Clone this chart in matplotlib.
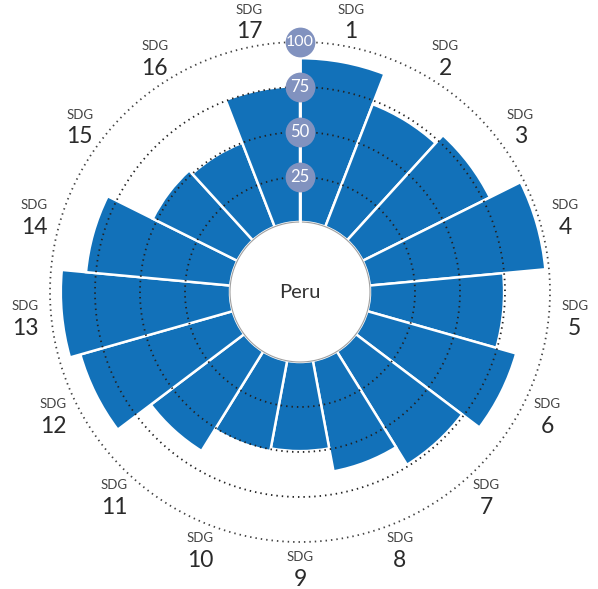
import numpy as np
import matplotlib
matplotlib.use("Agg")
import matplotlib.pyplot as plt

# ---- data ----
goals = list(range(1, 18))
scores = [91, 73, 79, 98, 74.5, 86, 74, 62.5, 49.5, 51, 65, 88, 94, 80.5, 52.5, 50, 75.5]
grid_values = [25, 50, 75, 100]
country = "Peru"

# ---- layout ----
W, H, DPI = 598, 589, 100
CX, CY = 300, 292          # centre in px (from top)
PX_PER_UNIT = 1.8
HOLE = 70 / PX_PER_UNIT    # radial offset for the hole
R_AX = 292                 # axes radius in px
U = R_AX / PX_PER_UNIT

BLUE = "#1271b9"
LABEL_BG = "#8192bf"
FONT = "Lato"

fig = plt.figure(figsize=(W / DPI, H / DPI), dpi=DPI)
ax = fig.add_axes([(CX - R_AX) / W, (H - CY - R_AX) / H, 2 * R_AX / W, 2 * R_AX / H],
                  projection="polar")
ax.set_theta_zero_location("N")
ax.set_theta_direction(-1)
ax.set_ylim(0, U)
ax.axis("off")

n = len(goals)
step = 2 * np.pi / n
theta = (np.arange(n) + 0.5) * step

ax.bar(theta, scores, width=step, bottom=HOLE, color=BLUE, edgecolor="white",
       linewidth=1.8, zorder=2)

tt = np.linspace(0, 2 * np.pi, 721)
for g in grid_values:
    col = "#222222" if g < 100 else "#444444"
    ax.plot(tt, np.full_like(tt, HOLE + g), color=col, lw=1.3,
            linestyle=(0, (0.8, 2.2)), zorder=3)

# hole edge
ax.plot(tt, np.full_like(tt, HOLE), color="#a0a0a0", lw=0.8, zorder=4)

# white axis line
ax.plot([0, 0], [HOLE, HOLE + 100], color="white", lw=2, zorder=4)

# value markers
for g in grid_values:
    ax.scatter([0], [HOLE + g], s=460, color=LABEL_BG, zorder=5, linewidths=0)
    ax.text(0, HOLE + g, str(g), ha="center", va="center", color="white",
            fontsize=12 if g < 100 else 11.5, family=FONT, zorder=6)

# centre text
ax.text(0, 0, country, ha="center", va="center", fontsize=14.5, color="#333333",
        family=FONT)

# SDG labels
R_LAB = 276 / PX_PER_UNIT
for th, gnum in zip(theta, goals):
    ax.annotate("SDG", xy=(th, R_LAB), xytext=(0, 8), textcoords="offset points",
                ha="center", va="center", fontsize=9.5, color="#444444", family=FONT,
                annotation_clip=False)
    ax.annotate(str(gnum), xy=(th, R_LAB), xytext=(0, -8), textcoords="offset points",
                ha="center", va="center", fontsize=16.5, color="#2a2a2a", family=FONT,
                annotation_clip=False)

fig.savefig("out.png", dpi=DPI, facecolor="white")
